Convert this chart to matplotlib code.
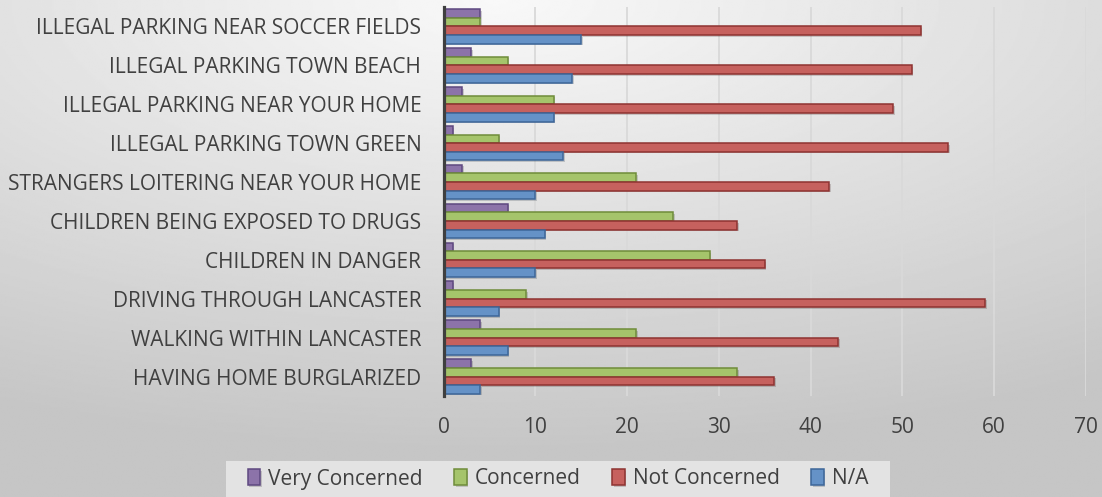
import numpy as np
import matplotlib
matplotlib.use("Agg")
import matplotlib.pyplot as plt
import matplotlib.patheffects as pe
from matplotlib.patches import Rectangle

plt.rcParams['font.family'] = ['Open Sans', 'DejaVu Sans']

# Categories listed bottom to top
categories = [
    "HAVING HOME BURGLARIZED",
    "WALKING WITHIN LANCASTER",
    "DRIVING THROUGH LANCASTER",
    "CHILDREN IN DANGER",
    "CHILDREN BEING EXPOSED TO DRUGS",
    "STRANGERS LOITERING NEAR YOUR HOME",
    "ILLEGAL PARKING TOWN GREEN",
    "ILLEGAL PARKING NEAR YOUR HOME",
    "ILLEGAL PARKING TOWN BEACH",
    "ILLEGAL PARKING NEAR SOCCER FIELDS",
]
very_concerned = [3, 4, 1, 1, 7, 2, 1, 2, 3, 4]
concerned = [32, 21, 9, 29, 25, 21, 6, 12, 7, 4]
not_concerned = [36, 43, 59, 35, 32, 42, 55, 49, 51, 52]
n_a = [4, 7, 6, 10, 11, 10, 13, 12, 14, 15]
x_ticks = [0, 10, 20, 30, 40, 50, 60, 70]

series = [
    ("Very Concerned", very_concerned, "#8C73A9", "#5E4880"),
    ("Concerned", concerned, "#A5C46B", "#6F8C3A"),
    ("Not Concerned", not_concerned, "#C6615E", "#8E3331"),
    ("N/A", n_a, "#6592C7", "#3D6699"),
]

fig = plt.figure(figsize=(11.02, 4.97), dpi=100)

# fond dégradé
bg = fig.add_axes([0, 0, 1, 1], zorder=-10)
yy, xx = np.mgrid[0:1:300j, 0:1:600j]
d = np.sqrt(((xx - 0.45) * 1.0) ** 2 + ((yy - 0.0) * 1.1) ** 2)
grad = 0.975 - 0.2 * np.clip(d / 1.0, 0, 1)
bg.imshow(grad, cmap="gray", vmin=0, vmax=1, aspect="auto", extent=[0, 1, 1, 0])
bg.axis("off")

# boîte de la légende
fig.patches.append(Rectangle((226 / 1102, 0), (890 - 226) / 1102, 36 / 497,
                             transform=fig.transFigure, facecolor="#E3E3E3",
                             edgecolor="none", zorder=-5))

ax = fig.add_axes([0.4025, 0.2032, 0.5830, 0.7827])
ax.set_facecolor("none")

h = 0.222
y = np.arange(len(categories))
offsets = [1.5 * h, 0.5 * h, -0.5 * h, -1.5 * h]
shadow = [pe.SimplePatchShadow(offset=(1.2, -1.2), alpha=0.2), pe.Normal()]
handles = []
for (name, vals, fc, ec), off in zip(series, offsets):
    bars = ax.barh(y + off, vals, height=h, color=fc, edgecolor=ec,
                   linewidth=1.1, label=name, zorder=3)
    for b in bars:
        b.set_path_effects(shadow)
    handles.append(bars)

ax.set_xlim(0, 70)
ax.set_ylim(-0.5, len(categories) - 0.5)
ax.set_xticks(x_ticks)
ax.set_yticks(y)
ax.set_yticklabels(categories)
ax.tick_params(axis="y", length=0, pad=16, labelsize=15, labelcolor="#404040")
ax.tick_params(axis="x", length=0, pad=15, labelsize=15, labelcolor="#404040")
ax.grid(axis="x", color="#D9D9D9", linewidth=1.3, zorder=0)
ax.set_axisbelow(True)
for s in ["top", "right", "bottom"]:
    ax.spines[s].set_visible(False)
ax.spines["left"].set_color("#3F3F3F")
ax.spines["left"].set_linewidth(2.3)
ax.spines["left"].set_zorder(5)

leg = fig.legend(handles=handles, labels=[s[0] for s in series],
                 loc="center", bbox_to_anchor=(558 / 1102, 18 / 497), ncol=4,
                 fontsize=15, frameon=False,
                 handlelength=0.6, handleheight=0.8, handletextpad=0.4,
                 columnspacing=1.5, borderpad=0.2, labelcolor="#404040")

fig.savefig("out.png", dpi=100)
